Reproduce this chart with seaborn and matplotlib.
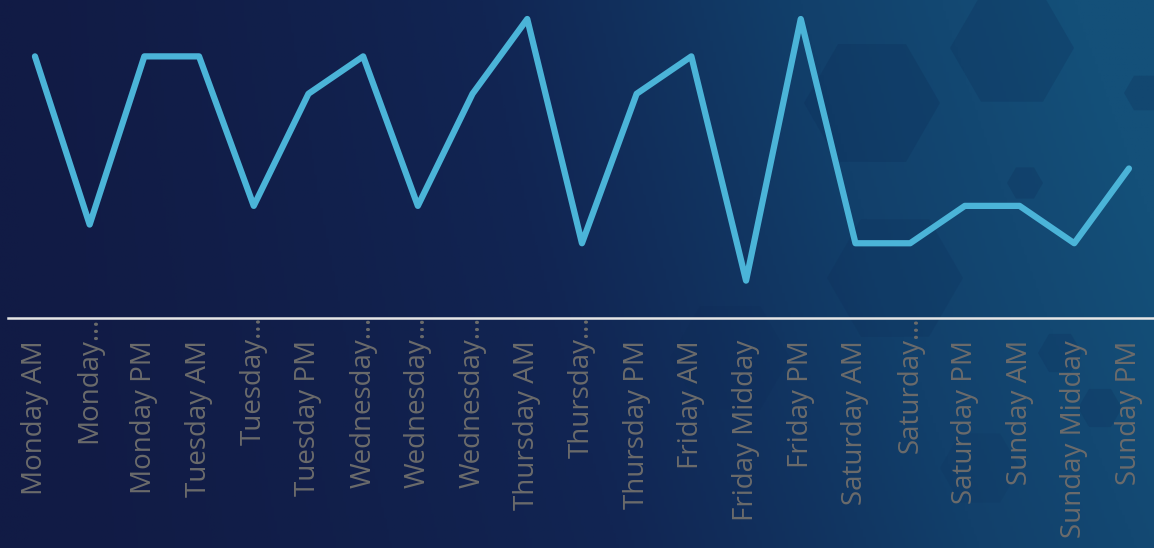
import numpy as np
import pandas as pd
import matplotlib
matplotlib.use("Agg")
import matplotlib.pyplot as plt
from matplotlib.colors import LinearSegmentedColormap
from matplotlib.patches import RegularPolygon
import seaborn as sns

slots = ["Monday AM", "Monday…", "Monday PM", "Tuesday AM", "Tuesday…",
         "Tuesday PM", "Wednesday…", "Wednesday…", "Wednesday…", "Thursday AM",
         "Thursday…", "Thursday PM", "Friday AM", "Friday Midday", "Friday PM",
         "Saturday AM", "Saturday…", "Saturday PM", "Sunday AM", "Sunday Midday",
         "Sunday PM"]
values = [7, 2.5, 7, 7, 3, 6, 7, 3, 6, 8, 2, 6, 7, 1, 8, 2, 2, 3, 3, 2, 4]

df = pd.DataFrame({"pos": np.arange(len(slots)), "value": values})

sns.set_theme(style="white")
plt.rcParams["font.family"] = ["Open Sans", "DejaVu Sans"]

W, H, DPI = 1154, 548, 100
fig = plt.figure(figsize=(W / DPI, H / DPI), dpi=DPI)

# gradient backdrop with faint hexagons
bg = fig.add_axes([0, 0, 1, 1], zorder=0)
bg.set_axis_off()
gx = np.linspace(0, 1, 400)
gy = np.linspace(0, 1, 200)
GX, GY = np.meshgrid(gx, gy)
t = np.clip(0.85 * GX ** 1.5 + 0.25 * GX * (1 - GY), 0, 1)
cmap = LinearSegmentedColormap.from_list("bg", ["#111b45", "#112553", "#12406b", "#145079"])
bg.imshow(t, cmap=cmap, extent=[0, W, 0, H], origin="upper", aspect="auto", vmin=0, vmax=1)
hexes = [(1012, 500, 62, 0.08), (872, 445, 68, 0.08), (895, 270, 68, 0.06),
         (1025, 365, 18, 0.08), (1144, 455, 20, 0.08), (1060, 195, 22, 0.07),
         (1100, 140, 22, 0.07), (730, 190, 60, 0.04), (980, 80, 40, 0.04)]
for cx, cy, r, a in hexes:
    bg.add_patch(RegularPolygon((cx, cy), 6, radius=r, orientation=np.pi / 6,
                                facecolor="#0b2550", alpha=a * 2.5, edgecolor="none"))
bg.set_xlim(0, W)
bg.set_ylim(0, H)

# data axes: value 8 at y=19 px, value 0 at y=318 px
top_px, base_px = 19, 318
ax = fig.add_axes([7.6 / W, (H - base_px) / H, 1.0 - 7.6 / W + 0.002, (base_px - top_px) / H], zorder=1)
ax.patch.set_alpha(0)
sns.lineplot(data=df, x="pos", y="value", ax=ax, color="#4bb4d8", linewidth=4.5,
             solid_capstyle="round", solid_joinstyle="round", clip_on=False)
ax.set_xlim(-0.5, len(slots) - 0.5)
ax.set_ylim(0, 8)
ax.set_xlabel("")
ax.set_ylabel("")
ax.set_yticks([])
ax.set_xticks(df["pos"])
ax.set_xticklabels(slots, rotation=90, fontsize=20, color="#6b6b6b", ha="center", va="top")
ax.tick_params(axis="x", length=0)
for tick, lab in zip(ax.xaxis.get_major_ticks(), slots):
    tick.set_pad(-1 if lab.endswith("…") else 16)
for s in ["top", "right", "left"]:
    ax.spines[s].set_visible(False)
ax.spines["bottom"].set_color("#e6e6e6")
ax.spines["bottom"].set_linewidth(1.8)

fig.savefig("out.png", dpi=DPI)
